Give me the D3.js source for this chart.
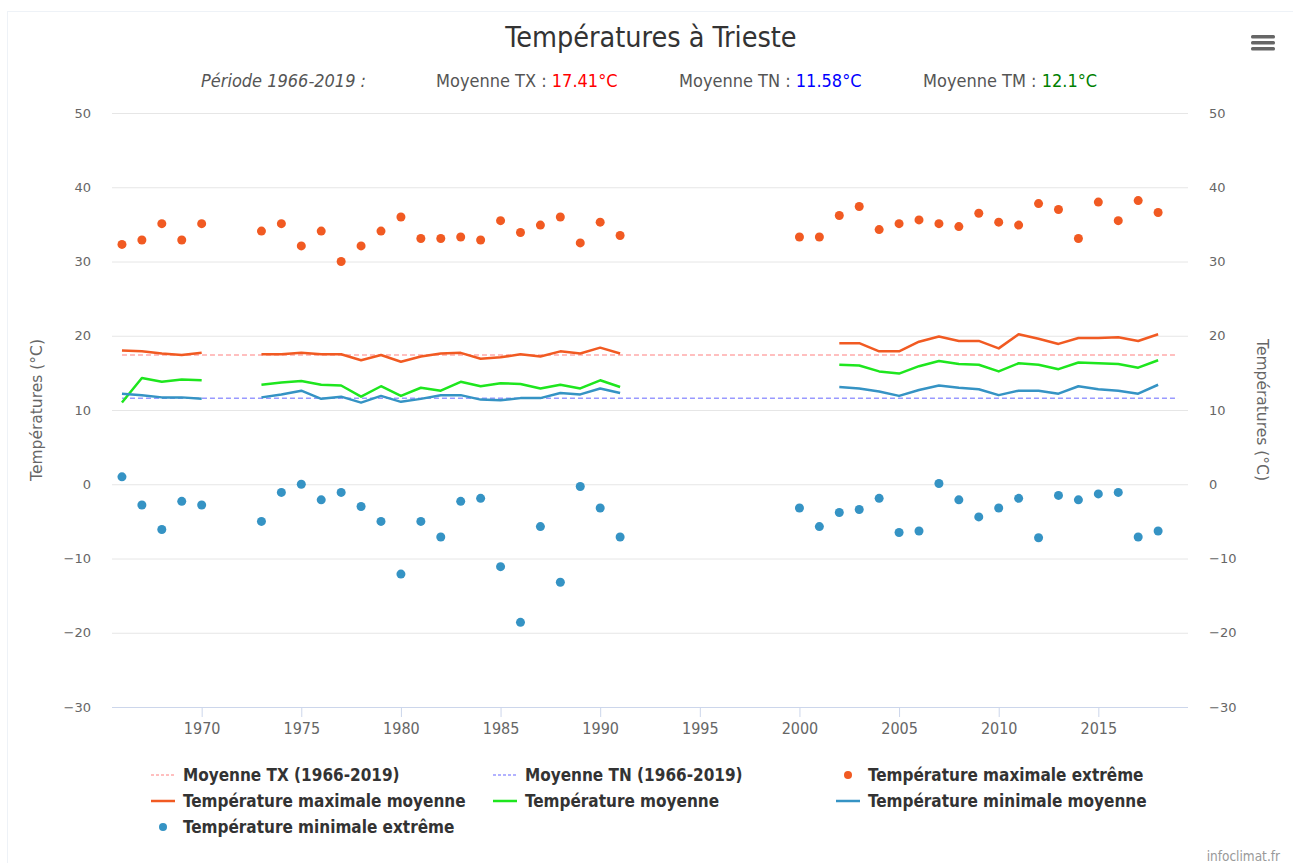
<!DOCTYPE html>
<html>
<head>
<meta charset="utf-8">
<script src="https://cdn.jsdelivr.net/npm/d3@7"></script>
<style>
  body { margin: 0; background: #fff; }
  .narrow { font-family: "Liberation Sans Narrow", "DejaVu Sans Condensed", "Roboto Condensed", sans-serif; font-stretch: condensed; }
  .tick text { font-family: "DejaVu Sans", sans-serif; }
</style>
</head>
<body>
<script>
// data
let years = [1966,1967,1968,1969,1970,1971,1972,1973,1974,1975,1976,1977,1978,1979,1980,1981,1982,1983,1984,1985,1986,1987,1988,1989,1990,1991,
  1992,1993,1994,1995,1996,1997,1998,1999,2000,2001,2002,2003,2004,2005,2006,2007,2008,2009,2010,2011,2012,2013,2014,2015,2016,2017,2018]

let txExtreme = [32.3,32.9,35.1,32.9,35.1,null,null,34.1,35.1,32.1,34.1,30.0,32.1,34.1,36.0,33.1,33.1,33.3,32.9,35.5,33.9,34.9,36.0,32.5,35.3,33.5,
  null,null,null,null,null,null,null,null,33.3,33.3,36.2,37.4,34.3,35.1,35.6,35.1,34.7,36.5,35.3,34.9,37.8,37.0,33.1,38.0,35.5,38.2,36.6]

let txMean = [18.0,17.9,17.6,17.4,17.7,null,null,17.5,17.5,17.7,17.5,17.5,16.7,17.4,16.5,17.2,17.6,17.7,16.9,17.1,17.5,17.2,17.9,17.6,18.4,17.6,
  null,null,null,null,null,null,null,null,null,null,19.0,19.0,17.9,17.9,19.2,19.9,19.3,19.3,18.3,20.2,19.6,18.9,19.7,19.7,19.8,19.3,20.2]

let tmMean = [11.0,14.3,13.8,14.1,14.0,null,null,13.4,13.7,13.9,13.4,13.3,11.8,13.2,11.9,13.0,12.6,13.8,13.2,13.6,13.5,12.9,13.4,12.9,14.0,13.1,
  null,null,null,null,null,null,null,null,null,null,16.1,16.0,15.2,14.9,15.9,16.6,16.2,16.1,15.2,16.3,16.1,15.5,16.4,16.3,16.2,15.7,16.7]

let tnMean = [12.2,12.0,11.7,11.7,11.5,null,null,11.7,12.1,12.6,11.5,11.8,11.0,11.9,11.1,11.5,12.0,12.0,11.4,11.3,11.6,11.6,12.3,12.1,12.9,12.3,
  null,null,null,null,null,null,null,null,null,null,13.1,12.9,12.5,11.9,12.7,13.3,13.0,12.8,12.0,12.6,12.6,12.2,13.2,12.8,12.6,12.2,13.4]

let tnExtreme = [1.0,-2.8,-6.1,-2.3,-2.8,null,null,-5.0,-1.1,0.0,-2.1,-1.1,-3.0,-5.0,-12.1,-5.0,-7.1,-2.3,-1.9,-11.1,-18.6,-5.7,-13.2,-0.3,-3.2,-7.1,
  null,null,null,null,null,null,null,null,-3.2,-5.7,-3.8,-3.4,-1.9,-6.5,-6.3,0.1,-2.1,-4.4,-3.2,-1.9,-7.2,-1.5,-2.1,-1.3,-1.1,-7.1,-6.3]

let periodYears = [1966, 2019]
let meanTX = 17.41
let meanTN = 11.58
let meanTM = 12.1

let yTicks = [-30,-20,-10,0,10,20,30,40,50]
let xTicks = [1970,1975,1980,1985,1990,1995,2000,2005,2010,2015]

let width = 1293
let height = 863
let plotLeft = 112, plotRight = 1188, plotTop = 113, plotBottom = 707

let svg = d3.select("body").append("svg")
    .attr("width", width)
    .attr("height", height)

// container border
svg.append("rect")
    .attr("x", 7.5).attr("y", 11.5)
    .attr("width", 1290).attr("height", 860)
    .attr("fill", "none")
    .attr("stroke", "#eef2f7")

let x = d3.scaleLinear().domain([1965.5, 2019.5]).range([plotLeft, plotRight])
let y = d3.scaleLinear().domain([-30, 50]).range([plotBottom, plotTop])

// title
svg.append("text")
    .attr("class", "narrow")
    .attr("x", 651).attr("y", 47)
    .attr("text-anchor", "middle")
    .style("font-size", "28.5px")
    .attr("fill", "#333")
    .text("Températures à Trieste")

// menu icon
for (let i = 0; i < 3; i++) {
    svg.append("rect")
        .attr("x", 1251).attr("y", 35 + i * 6)
        .attr("width", 24).attr("height", 3.5)
        .attr("rx", 1.5)
        .attr("fill", "#666")
}

// subtitle
let sub = svg.append("text")
    .attr("class", "narrow")
    .attr("y", 87)
    .style("font-size", "18px")
    .attr("fill", "#555")
sub.append("tspan").attr("x", 201).style("font-style", "italic").text("Période 1966-2019 :")
sub.append("tspan").attr("x", 436).text("Moyenne TX : ")
sub.append("tspan").attr("fill", "#ff0000").text(meanTX + "°C")
sub.append("tspan").attr("x", 679).text("Moyenne TN : ")
sub.append("tspan").attr("fill", "#0000ff").text(meanTN + "°C")
sub.append("tspan").attr("x", 923).text("Moyenne TM : ")
sub.append("tspan").attr("fill", "#008000").text(meanTM + "°C")

// grid
svg.append("g").selectAll("line")
    .data(yTicks.slice(1))
    .enter().append("line")
    .attr("x1", plotLeft).attr("x2", plotRight)
    .attr("y1", d => y(d) + 0.5).attr("y2", d => y(d) + 0.5)
    .attr("stroke", "#e6e6e6")

// y axes
let yFmt = d => d < 0 ? "−" + Math.abs(d) : d
let yLeft = svg.append("g")
    .attr("transform", `translate(${plotLeft},0)`)
    .call(d3.axisLeft(y).tickValues(yTicks).tickSize(0).tickPadding(21).tickFormat(yFmt))
let yRight = svg.append("g")
    .attr("transform", `translate(${plotRight},0)`)
    .call(d3.axisRight(y).tickValues(yTicks).tickSize(0).tickPadding(21).tickFormat(yFmt))
for (let g of [yLeft, yRight]) {
    g.select(".domain").remove()
    g.selectAll("text").style("font-size", "13px").attr("fill", "#666")
}

let axisTitles = [[42, -90], [1257, 90]]
axisTitles.forEach(([tx, rot]) => {
    svg.append("text")
        .attr("transform", `translate(${tx},${(plotTop + plotBottom) / 2}) rotate(${rot})`)
        .attr("text-anchor", "middle")
        .style("font-family", "DejaVu Sans, sans-serif")
        .style("font-size", "15.5px")
        .attr("fill", "#666")
        .text("Températures (°C)")
})

// x axis
let xAxis = svg.append("g")
    .attr("transform", `translate(0,${plotBottom})`)
    .call(d3.axisBottom(x).tickValues(xTicks).tickSize(10).tickPadding(6).tickFormat(d3.format("d")))
xAxis.select(".domain").attr("stroke", "#ccd6eb").attr("d", `M${plotLeft},0.5H${plotRight}`)
xAxis.selectAll(".tick line").attr("stroke", "#ccd6eb")
xAxis.selectAll("text")
    .attr("class", "narrow")
    .style("font-size", "16px")
    .attr("fill", "#666")

// colours
let cOrange = "#f15a22"
let cGreen = "#1ee61e"
let cBlue = "#3593c4"
let cPink = "#ffaaaa"
let cLilac = "#9999ff"

// mean reference lines
let refLine = d3.line().x(d => x(d[0])).y(d => y(d[1]))
svg.append("path")
    .datum(periodYears.map(d => [d, meanTX]))
    .attr("d", refLine)
    .attr("fill", "none").attr("stroke", cPink).attr("stroke-width", 1.5).attr("stroke-dasharray", "5,3")
svg.append("path")
    .datum(periodYears.map(d => [d, meanTN]))
    .attr("d", refLine)
    .attr("fill", "none").attr("stroke", cLilac).attr("stroke-width", 1.5).attr("stroke-dasharray", "5,3")

// mean lines
let line = d3.line()
    .defined(d => d[1] !== null)
    .x(d => x(d[0]))
    .y(d => y(d[1]))
let lineSeries = [[txMean, cOrange], [tmMean, cGreen], [tnMean, cBlue]]
lineSeries.forEach(([vals, col]) => {
    svg.append("path")
        .datum(years.map((yr, i) => [yr, vals[i]]))
        .attr("d", line)
        .attr("fill", "none")
        .attr("stroke", col)
        .attr("stroke-width", 2.5)
        .attr("stroke-linejoin", "round")
})

// extreme points
let pointSeries = [[txExtreme, cOrange], [tnExtreme, cBlue]]
pointSeries.forEach(([vals, col]) => {
    svg.append("g").selectAll("circle")
        .data(years.map((yr, i) => [yr, vals[i]]).filter(d => d[1] !== null))
        .enter().append("circle")
        .attr("cx", d => x(d[0]))
        .attr("cy", d => y(d[1]))
        .attr("r", 4.5)
        .attr("fill", col)
})

// legend
let legendItems = [
    {label: "Moyenne TX (1966-2019)", type: "dash", color: cPink, col: 0, row: 0},
    {label: "Moyenne TN (1966-2019)", type: "dash", color: cLilac, col: 1, row: 0},
    {label: "Température maximale extrême", type: "dot", color: cOrange, col: 2, row: 0},
    {label: "Température maximale moyenne", type: "line", color: cOrange, col: 0, row: 1},
    {label: "Température moyenne", type: "line", color: cGreen, col: 1, row: 1},
    {label: "Température minimale moyenne", type: "line", color: cBlue, col: 2, row: 1},
    {label: "Température minimale extrême", type: "dot", color: cBlue, col: 0, row: 2}
]
let colX = [151, 493, 836]
let legend = svg.append("g")
let li = legend.selectAll("g")
    .data(legendItems)
    .enter().append("g")
    .attr("transform", d => `translate(${colX[d.col]},${775 + d.row * 26})`)
li.filter(d => d.type !== "dot").append("line")
    .attr("x1", 0).attr("x2", 24)
    .attr("y1", 0).attr("y2", 0)
    .attr("stroke", d => d.color)
    .attr("stroke-width", d => d.type === "line" ? 2.5 : 1.5)
    .attr("stroke-dasharray", d => d.type === "dash" ? "3,2" : null)
li.filter(d => d.type === "dot").append("circle")
    .attr("cx", 12).attr("cy", 0).attr("r", 4)
    .attr("fill", d => d.color)
li.append("text")
    .attr("class", "narrow")
    .attr("x", 32).attr("y", 6)
    .style("font-size", "17px")
    .style("font-weight", "bold")
    .attr("fill", "#333")
    .text(d => d.label)

// credit
svg.append("text")
    .attr("class", "narrow")
    .attr("x", 1280).attr("y", 861)
    .attr("text-anchor", "end")
    .style("font-size", "13.5px")
    .attr("fill", "#999")
    .text("infoclimat.fr")
</script>
</body>
</html>
